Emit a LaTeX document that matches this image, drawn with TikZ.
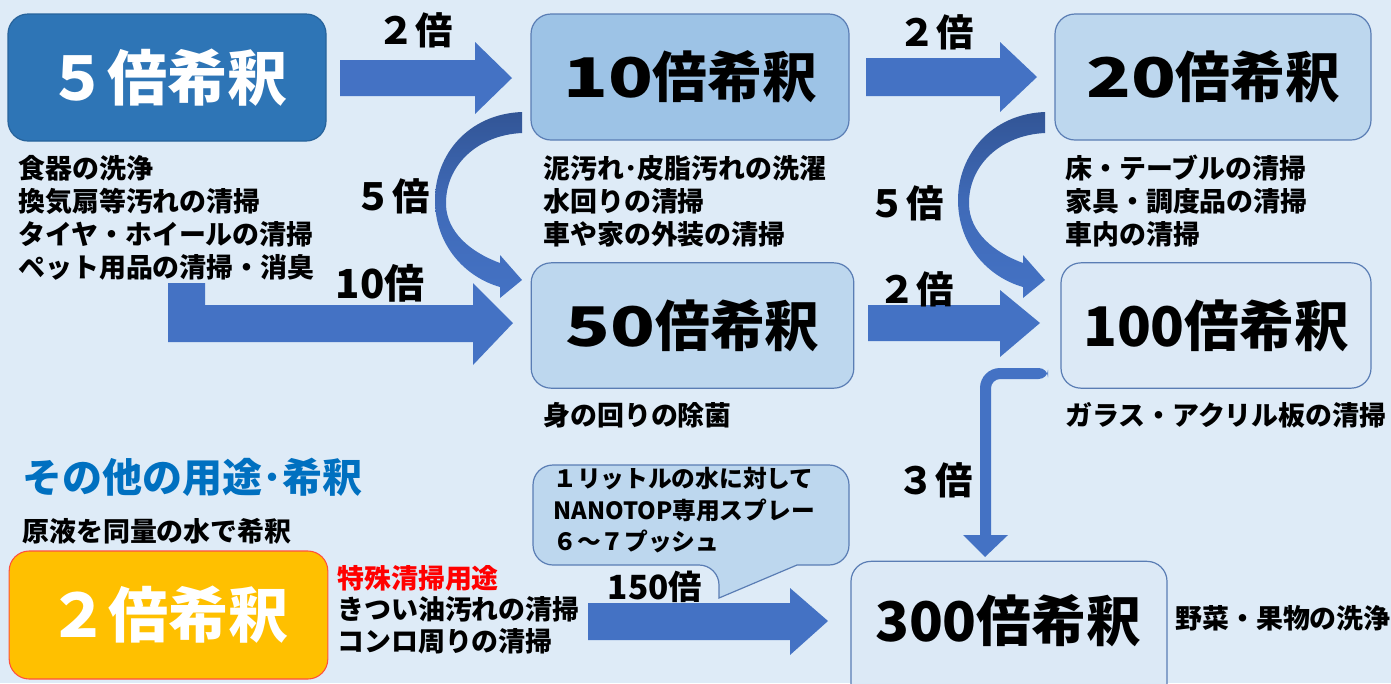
\documentclass[tikz,border=0pt]{standalone}
\usepackage{fontspec}
\setmainfont{Noto Sans CJK JP}
\newfontfamily\dgtA{Noto Sans CJK JP}[FakeStretch=1.35]
\newfontfamily\dgtB{Noto Sans CJK JP}[FakeStretch=1.02]
\definecolor{bg}{RGB}{222,235,247}
\definecolor{lightbox}{RGB}{220,233,246}
\definecolor{midbox}{RGB}{189,215,238}
\definecolor{darkbox}{RGB}{157,195,230}
\definecolor{fivebox}{RGB}{46,117,182}
\definecolor{boxline}{RGB}{90,125,180}
\definecolor{arrowblue}{RGB}{68,114,196}
\definecolor{arrowdark}{RGB}{50,85,150}
\definecolor{orangebox}{RGB}{255,192,0}
\definecolor{orangeline}{RGB}{255,80,60}
\definecolor{titleblue}{RGB}{0,112,192}
\definecolor{redtext}{RGB}{255,0,0}
\begin{document}
\begin{tikzpicture}[x=0.75pt,y=-0.75pt,
  every node/.style={inner sep=0pt},
  box/.style={draw=boxline, line width=0.9pt, rounded corners=15pt},
  ttl/.style={font=\fontsize{41}{41}\selectfont\bfseries},
  wttl/.style={font=\fontsize{45}{45}\selectfont\bfseries, text=white},
  lbl/.style={font=\fontsize{28}{28}\selectfont\bfseries},
  lst/.style={font=\fontsize{20.2}{24.8}\selectfont\bfseries, align=left, anchor=north west},
  txt/.style={font=\fontsize{20.2}{24.8}\selectfont\bfseries, anchor=west},
  ctxt/.style={font=\fontsize{17.8}{23.6}\selectfont\bfseries, align=left, anchor=north west},
  barrow/.style={fill=arrowblue},
  carrow/.style={top color=arrowdark, bottom color=arrowblue, middle color=arrowblue!75!arrowdark}]
\fill[bg] (0,0) rectangle (1391,683);
\useasboundingbox (0,0) rectangle (1391,683);
\clip (0,0) rectangle (1391,683);

% boxes
\node[box, fill=fivebox, draw=fivebox!85!black, minimum width=238.5pt, minimum height=95.25pt, wttl] (b5) at (167,77.5) {５倍希釈};
\node[box, fill=darkbox, minimum width=238.5pt, minimum height=94.5pt, ttl] (b10) at (690,77) {{\dgtA 10}倍希釈};
\node[box, fill=midbox, minimum width=237pt, minimum height=94.5pt, ttl] (b20) at (1213,77) {{\dgtA 20}倍希釈};
\node[box, fill=midbox, minimum width=242pt, minimum height=94pt, ttl] (b50) at (692.5,325.5) {{\dgtA 50}倍希釈};
\node[box, fill=lightbox, minimum width=232.5pt, minimum height=94pt, ttl] (b100) at (1216,325.5) {{\dgtB 100}倍希釈};
\node[box, fill=lightbox, minimum width=237pt, minimum height=112pt] (b300) at (1009,636) {};
\node[ttl] (t300) at (1008,621) {{\dgtB 300}倍希釈};
\node[box, fill=orangebox, draw=orangeline, line width=0.8pt, minimum width=239pt, minimum height=96pt, wttl] (b2) at (168.5,615) {２倍希釈};

% callout
\draw[fill=midbox, draw=boxline, line width=0.9pt] (797,565) [rounded corners=15pt] -- (849,565) -- (849,465) -- (533,465) -- (533,565) -- (719,565) [sharp corners] -- (719,598) -- cycle;
\node[ctxt] (call) at (553,467) {１リットルの水に対して\\NANOTOP専用スプレー\\６～７プッシュ};

% straight block arrows
\fill[barrow] (340,60) -- (475,60) -- (475,42) -- (512,78) -- (475,114) -- (475,96) -- (340,96) -- cycle;
\fill[barrow] (866,58) -- (1000,58) -- (1000,42) -- (1037,77) -- (1000,112) -- (1000,96) -- (866,96) -- cycle;
\fill[barrow] (868,305) -- (1000,305) -- (1000,290) -- (1040,323) -- (1000,357) -- (1000,341) -- (868,341) -- cycle;
\fill[barrow] (168,283) -- (205,283) -- (205,305) -- (473,305) -- (473,283) -- (513,323) -- (473,365) -- (473,342) -- (168,342) -- cycle;
\fill[barrow] (588,603) -- (790,603) -- (790,588) -- (828,621) -- (790,655) -- (790,640) -- (588,640) -- cycle;
% bent arrow 100 -> 300
\fill[barrow] (1048,368) [rounded corners=15pt] -- (980,368) -- (980,450) [sharp corners] -- (980,535) -- (963,535) -- (985,557) -- (1008,535) -- (991,535) -- (991,450) [rounded corners=7pt] -- (991,379) -- (1048,379) -- cycle;

% curved arrows
\shade[carrow] (522,112) .. controls (468,114) and (435,155) .. (435,200) .. controls (435,245) and (465,277) .. (500,287) -- (500,298) -- (522,280) -- (500,255) -- (500,263) .. controls (470,252) and (447,232) .. (446,205) .. controls (445,165) and (478,135) .. (522,133) -- cycle;
\begin{scope}[xshift=392.25pt]
\shade[carrow] (522,112) .. controls (468,114) and (435,155) .. (435,200) .. controls (435,245) and (465,277) .. (500,287) -- (500,298) -- (522,280) -- (500,255) -- (500,263) .. controls (470,252) and (447,232) .. (446,205) .. controls (445,165) and (478,135) .. (522,133) -- cycle;
\end{scope}

% arrow labels
\node[lbl] (l1) at (415,30) {２倍};
\node[lbl] (l2) at (936,32) {２倍};
\node[lbl] (l3) at (392,196) {５倍};
\node[lbl, font=\fontsize{30}{30}\selectfont\bfseries] (l4) at (380,283) {10倍};
\node[lbl] (l5) at (906,203) {５倍};
\node[lbl] (l6) at (916,289) {２倍};
\node[lbl] (l7) at (935,480) {３倍};
\node[lbl, font=\fontsize{25}{25}\selectfont\bfseries] (l8) at (655,587) {150倍};

% lists
\node[lst] (u5) at (18,155) {食器の洗浄\\換気扇等汚れの清掃\\タイヤ・ホイールの清掃\\ペット用品の清掃・消臭};
\node[lst] (u10) at (543,155) {泥汚れ･皮脂汚れの洗濯\\水回りの清掃\\車や家の外装の清掃};
\node[lst] (u20) at (1065,155) {床・テーブルの清掃\\家具・調度品の清掃\\車内の清掃};
\node[txt] (u50) at (543,415) {身の回りの除菌};
\node[txt] (u100) at (1065,415) {ガラス・アクリル板の清掃};
\node[txt] (u300) at (1175,618) {野菜・果物の洗浄};

% other uses
\node[anchor=west, font=\fontsize{30}{30}\selectfont\bfseries, text=titleblue] (oth) at (22,477) {その他の用途･希釈};
\node[txt] (gen) at (22,531) {原液を同量の水で希釈};
\node[txt, text=redtext] (spc) at (337,578) {特殊清掃用途};
\node[txt] (s1) at (337,609) {きつい油汚れの清掃};
\node[txt] (s2) at (337,641) {コンロ周りの清掃};
\end{tikzpicture}
\end{document}
